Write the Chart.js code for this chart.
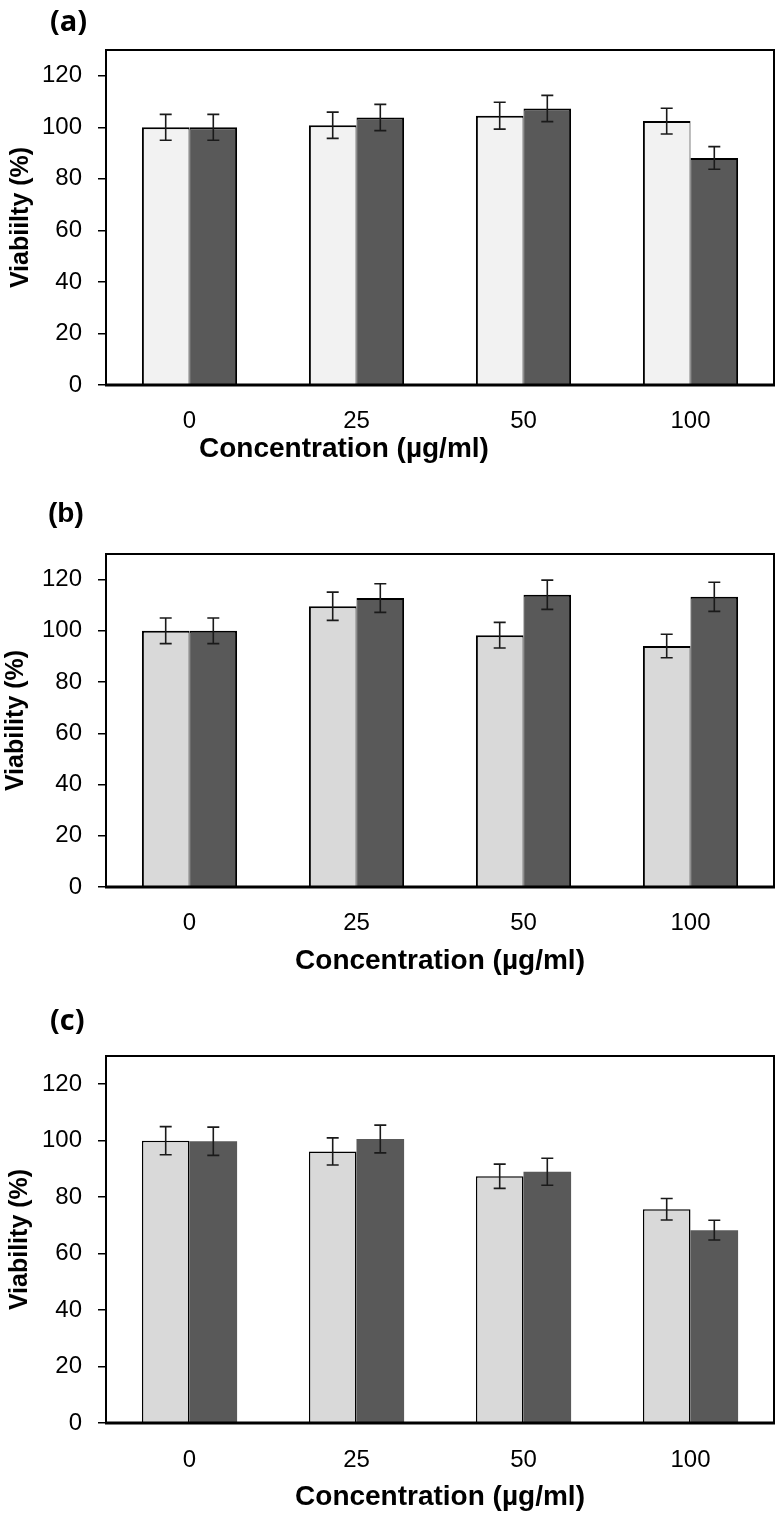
<!DOCTYPE html>
<html>
<head>
<meta charset="utf-8">
<script src="https://cdn.jsdelivr.net/npm/chart.js@4.4.1/dist/chart.umd.min.js"></script>
<style>
  body { margin: 0; background: #fff; width: 776px; height: 1515px; position: relative; overflow: hidden; }
  canvas { position: absolute; left: 0; }
  .tag { position: absolute; font-weight: 700; color: #000; line-height: 30px; height: 30px; white-space: nowrap; }
</style>
</head>
<body>
<canvas id="chartA" width="776" height="470" style="top:0"></canvas>
<canvas id="chartB" width="776" height="510" style="top:480px"></canvas>
<canvas id="chartC" width="776" height="525" style="top:990px"></canvas>

<div class="tag" style="left:50px;top:5px;font-family:'Open Sans',sans-serif;font-size:29px">(a)</div>
<div class="tag" style="left:48px;top:498px;font-family:'Liberation Sans',sans-serif;font-size:28px">(b)</div>
<div class="tag" style="left:50px;top:1004px;font-family:'Open Sans',sans-serif;font-size:29px">(c)</div>
<div class="tag" style="left:199px;top:433px;font-family:'Liberation Sans',sans-serif;font-size:28px">Concentration (µg/ml)</div>

<script>
// concentrations on the x axis (µg/ml)
const concentrations = ['0', '25', '50', '100'];
const yTickMax = 120;
const yAxisMax = 130;
const yStep = 20;

// panel (a)
const viabA1 = [100, 100.8, 104.5, 102.4];
const errA1 = [5, 5.1, 5.2, 5.0];
const viabA2 = [100, 103.8, 107.3, 88.1];
const errA2 = [5, 5.1, 5.1, 4.4];

// panel (b)
const viabB1 = [100, 109.6, 98.3, 94.1];
const errB1 = [5, 5.5, 5.0, 4.6];
const viabB2 = [100, 112.8, 114.1, 113.3];
const errB2 = [5, 5.6, 5.7, 5.7];

// panel (c)
const viabC1 = [100, 96.2, 87.4, 75.7];
const errC1 = [5, 4.8, 4.3, 3.8];
const viabC2 = [99.8, 100.6, 89.0, 68.3];
const errC2 = [5, 4.9, 4.8, 3.5];

const arial = "'Liberation Sans', Arial, sans-serif";

// box around the plot area
const framePlugin = {
    id: 'frame',
    afterDatasetsDraw(chart) {
        const a = chart.chartArea;
        const ctx = chart.ctx;
        ctx.save();
        ctx.strokeStyle = '#000';
        ctx.lineWidth = 2;
        ctx.strokeRect(a.left, a.top, a.right - a.left, a.bottom - a.top);
        ctx.lineWidth = 3;
        ctx.beginPath();
        ctx.moveTo(a.left - 1, a.bottom);
        ctx.lineTo(a.right + 1, a.bottom);
        ctx.stroke();
        ctx.restore();
    }
};

// error bars from dataset.errors
const errorBarPlugin = {
    id: 'errorBars',
    afterDatasetsDraw(chart) {
        const ctx = chart.ctx;
        const yScale = chart.scales.y;
        ctx.save();
        ctx.strokeStyle = '#1a1a1a';
        ctx.lineWidth = 1.6;
        chart.data.datasets.forEach((ds, i) => {
            const meta = chart.getDatasetMeta(i);
            meta.data.forEach((bar, j) => {
                const v = ds.data[j];
                const e = ds.errors[j];
                const top = yScale.getPixelForValue(v + e);
                const bot = yScale.getPixelForValue(v - e);
                const x = bar.x;
                ctx.beginPath();
                ctx.moveTo(x, top); ctx.lineTo(x, bot);
                ctx.moveTo(x - 6, top); ctx.lineTo(x + 6, top);
                ctx.moveTo(x - 6, bot); ctx.lineTo(x + 6, bot);
                ctx.stroke();
            });
        });
        ctx.restore();
    }
};

function makeChart(id, p) {
    new Chart(document.getElementById(id), {
        type: 'bar',
        data: {
            labels: concentrations,
            datasets: [{
                data: p.light,
                errors: p.lightErr,
                backgroundColor: p.lightColor,
                borderColor: '#000',
                borderWidth: p.lightBorder,
                borderSkipped: false
            }, {
                data: p.dark,
                errors: p.darkErr,
                backgroundColor: '#595959',
                borderColor: '#000',
                borderWidth: p.darkBorder,
                borderSkipped: false
            }]
        },
        options: {
            responsive: false,
            animation: false,
            layout: { padding: { top: p.top, right: 2, left: 0, bottom: 0 } },
            datasets: { bar: { barPercentage: 1, categoryPercentage: 0.57 } },
            plugins: { legend: { display: false }, tooltip: { enabled: false } },
            scales: {
                x: {
                    grid: { display: false, drawTicks: false },
                    border: { display: false },
                    ticks: { color: '#000', padding: p.xTickPad, font: { family: arial, size: 24 } },
                    title: {
                        display: p.xTitle,
                        text: 'Concentration (µg/ml)',
                        color: '#000',
                        padding: { top: 0, bottom: p.xTitlePad },
                        font: { family: arial, size: 28, weight: 'bold' }
                    },
                    afterFit: s => { s.height = p.xHeight; }
                },
                y: {
                    min: 0,
                    max: yAxisMax,
                    grid: { drawOnChartArea: false, drawTicks: true, tickLength: 8, color: '#000', lineWidth: 1.5 },
                    border: { display: false },
                    ticks: {
                        stepSize: yStep,
                        includeBounds: false,
                        autoSkip: false,
                        color: '#000',
                        padding: 16,
                        font: { family: arial, size: 24 }
                    },
                    afterBuildTicks: s => { s.ticks = s.ticks.filter(t => t.value <= yTickMax); },
                    title: {
                        display: true,
                        text: p.yTitle,
                        color: '#000',
                        padding: { top: p.yTitlePad, bottom: 0 },
                        font: { family: arial, size: 25, weight: 'bold' }
                    },
                    afterFit: s => { s.width = 106; }
                }
            }
        },
        plugins: [framePlugin, errorBarPlugin]
    });
}

makeChart('chartA', {
    light: viabA1, lightErr: errA1, dark: viabA2, darkErr: errA2,
    lightColor: '#f2f2f2',
    lightBorder: { left: 2, top: 2, right: 1, bottom: 0 },
    darkBorder: { left: 1, top: 2, right: 2, bottom: 0 },
    top: 50, xHeight: 85, xTickPad: 22, xTitle: false, xTitlePad: 6,
    yTitle: 'Viabiilty (%)', yTitlePad: 6
});

makeChart('chartB', {
    light: viabB1, lightErr: errB1, dark: viabB2, darkErr: errB2,
    lightColor: '#d9d9d9',
    lightBorder: { left: 2, top: 2, right: 1, bottom: 0 },
    darkBorder: { left: 1, top: 2, right: 2, bottom: 0 },
    top: 74, xHeight: 103, xTickPad: 22, xTitle: true, xTitlePad: 12,
    yTitle: 'Viability (%)', yTitlePad: 1
});

makeChart('chartC', {
    light: viabC1, lightErr: errC1, dark: viabC2, darkErr: errC2,
    lightColor: '#d9d9d9',
    lightBorder: { left: 1.5, top: 1.5, right: 1.5, bottom: 0 },
    darkBorder: 0,
    top: 66, xHeight: 92, xTickPad: 23, xTitle: true, xTitlePad: 1,
    yTitle: 'Viability (%)', yTitlePad: 5
});
</script>
</body>
</html>
